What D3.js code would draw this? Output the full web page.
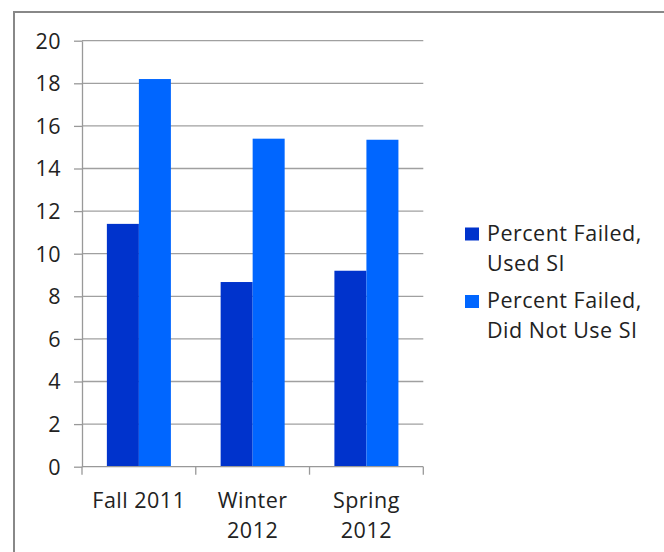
<!DOCTYPE html>
<html>
<head>
<meta charset="utf-8">
<script src="https://cdn.jsdelivr.net/npm/d3@7"></script>
<style>
  body { margin: 0; background: #fff; }
  svg text { font-family: "Open Sans", Lato, sans-serif; fill: #222; letter-spacing: 0.5px; }
</style>
</head>
<body>
<svg id="chart" width="664" height="552"></svg>
<script>
// chart data
var categories = ["Fall 2011", "Winter 2012", "Spring 2012"];
var seriesNames = ["Percent Failed, Used SI", "Percent Failed, Did Not Use SI"];
var usedSI = [11.4, 8.67, 9.2];
var didNotUseSI = [18.2, 15.4, 15.35];
var yTicks = [0, 2, 4, 6, 8, 10, 12, 14, 16, 18, 20];
var colors = ["#0033cc", "#0066ff"];

var fontSize = 21.5;

var svg = d3.select("#chart");

// outer frame (runs off the right/bottom edge like the original)
svg.append("rect")
    .attr("x", 14).attr("y", 12)
    .attr("width", 700).attr("height", 600)
    .attr("fill", "none")
    .attr("stroke", "#888")
    .attr("stroke-width", 2);

var margin = {left: 82, top: 40.7, right: 423.3, bottom: 466.7};

var x0 = d3.scaleBand()
    .domain(categories)
    .range([margin.left, margin.right])
    .padding(0);

var x1 = d3.scaleBand()
    .domain(seriesNames)
    .range([0, x0.bandwidth()])
    .paddingInner(0)
    .paddingOuter(0.777);

var y = d3.scaleLinear()
    .domain([0, 20])
    .range([margin.bottom, margin.top]);

// gridlines
svg.append("g")
  .selectAll("line")
  .data(yTicks.filter(function(d) { return d > 0; }))
  .enter().append("line")
    .attr("x1", margin.left)
    .attr("x2", margin.right)
    .attr("y1", function(d) { return y(d); })
    .attr("y2", function(d) { return y(d); })
    .attr("stroke", "#a0a0a0")
    .attr("stroke-width", 1.3);

// y axis
var yAxis = svg.append("g")
    .attr("transform", "translate(" + margin.left + ",0)")
    .call(d3.axisLeft(y).tickValues(yTicks).tickSize(8).tickPadding(13).tickSizeOuter(0));
yAxis.selectAll("path, line").attr("stroke", "#999").attr("stroke-width", 1.3);
yAxis.selectAll("text")
    .attr("font-size", fontSize)
    .attr("font-family", "'Open Sans', sans-serif")
    .attr("fill", "#222")
    .attr("dy", "0.34em");

// bars
var data = categories.map(function(c, i) {
  return {cat: c, values: [usedSI[i], didNotUseSI[i]]};
});

var groups = svg.append("g")
  .selectAll("g")
  .data(data)
  .enter().append("g")
    .attr("transform", function(d) { return "translate(" + x0(d.cat) + ",0)"; });

groups.selectAll("rect")
  .data(function(d) { return d.values.map(function(v, j) { return {name: seriesNames[j], value: v, j: j}; }); })
  .enter().append("rect")
    .attr("x", function(d) { return x1(d.name); })
    .attr("y", function(d) { return y(d.value); })
    .attr("width", x1.bandwidth())
    .attr("height", function(d) { return y(0) - y(d.value); })
    .attr("fill", function(d) { return colors[d.j]; });

// x axis
var xAxis = svg.append("g")
    .attr("transform", "translate(0," + margin.bottom + ")");
xAxis.append("line")
    .attr("x1", margin.left).attr("x2", margin.right)
    .attr("y1", 0).attr("y2", 0)
    .attr("stroke", "#999").attr("stroke-width", 1.3);
var boundaries = [margin.left].concat(categories.map(function(c) { return x0(c) + x0.bandwidth(); }));
xAxis.selectAll(".tick")
  .data(boundaries)
  .enter().append("line")
    .attr("x1", function(d) { return d; }).attr("x2", function(d) { return d; })
    .attr("y1", 0).attr("y2", 8)
    .attr("stroke", "#999").attr("stroke-width", 1.3);

var catLines = [["Fall 2011"], ["Winter", "2012"], ["Spring", "2012"]];
xAxis.selectAll(".cat")
  .data(categories)
  .enter().append("text")
    .attr("class", "cat")
    .attr("x", function(d) { return x0(d) + x0.bandwidth() / 2; })
    .attr("y", 41)
    .attr("text-anchor", "middle")
    .attr("font-size", fontSize)
  .selectAll("tspan")
  .data(function(d, i) { return catLines[i]; })
  .enter().append("tspan")
    .attr("x", function() { return d3.select(this.parentNode).attr("x"); })
    .attr("dy", function(d, i) { return i === 0 ? 0 : 30; })
    .text(function(d) { return d; });

// legend
var legendLines = [["Percent Failed,", "Used SI"], ["Percent Failed,", "Did Not Use SI"]];
var legend = svg.append("g")
  .selectAll("g")
  .data(seriesNames)
  .enter().append("g")
    .attr("transform", function(d, i) { return "translate(465," + (227.5 + i * 67.5) + ")"; });

legend.append("rect")
    .attr("width", 14).attr("height", 13)
    .attr("fill", function(d, i) { return colors[i]; });

legend.append("text")
    .attr("x", 22)
    .attr("y", 13)
    .attr("font-size", fontSize)
  .selectAll("tspan")
  .data(function(d, i) { return legendLines[i]; })
  .enter().append("tspan")
    .attr("x", 22)
    .attr("dy", function(d, i) { return i === 0 ? 0 : 30; })
    .text(function(d) { return d; });
</script>
</body>
</html>
